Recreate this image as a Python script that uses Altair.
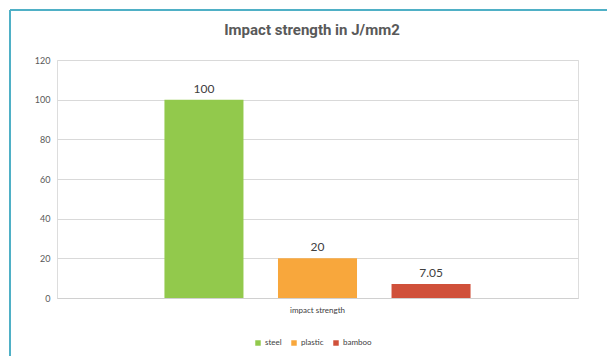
import altair as alt
import pandas as pd

title_text = "Impact strength in J/mm2"
materials = ["steel", "plastic", "bamboo"]
values = [100, 20, 7.05]
category = "impact strength"
colors = ["#92c94c", "#f8a73c", "#d0503a"]
y_ticks = [0, 20, 40, 60, 80, 100, 120]

df = pd.DataFrame({
    "cat": [category] * len(materials),
    "material": materials,
    "value": values,
    "label": [str(v) for v in values],
})
one = pd.DataFrame({"t": [title_text]})

base = alt.Chart(df).encode(
    x=alt.X("cat:N", title=None,
            scale=alt.Scale(paddingInner=0, paddingOuter=0.351),
            axis=alt.Axis(labelAngle=0, labelFontSize=8, labelColor="#404040",
                          labelFont="Lato", ticks=False, domainColor="#d0d0d0",
                          labelPadding=8)),
    xOffset=alt.XOffset("material:N", sort=materials,
                        scale=alt.Scale(paddingInner=0.304, paddingOuter=0)),
    y=alt.Y("value:Q", title=None,
            scale=alt.Scale(domain=[0, 120]),
            axis=alt.Axis(values=y_ticks, labelFontSize=9, labelColor="#595959",
                          labelFont="Lato", ticks=False, domain=False,
                          gridColor="#d9d9d9", labelPadding=7)),
)

bars = base.mark_bar().encode(
    color=alt.Color("material:N", sort=materials,
                    scale=alt.Scale(domain=materials, range=colors),
                    legend=alt.Legend(title=None, orient="none", direction="horizontal",
                                      legendX=197, legendY=279, symbolType="square",
                                      symbolSize=30, labelFontSize=8, labelFont="Lato",
                                      labelColor="#404040", columnPadding=8,
                                      symbolOffset=0, labelOffset=3)),
)

labels = base.mark_text(dy=-11, fontSize=12, font="Lato", color="#404040").encode(
    text="label:N"
)

title = alt.Chart(one).mark_text(fontSize=15, font="Roboto", fontWeight="bold",
                                 color="#595959", baseline="middle", align="center").encode(
    text="t:N", x=alt.value(255), y=alt.value(-30)
)

frame_top = alt.Chart(one).mark_rule(color="#4fb0c6", strokeWidth=2).encode(
    x=alt.value(-47), x2=alt.value(550), y=alt.value(-50)
)
frame_left = alt.Chart(one).mark_rule(color="#4fb0c6", strokeWidth=2).encode(
    x=alt.value(-47), y=alt.value(-50), y2=alt.value(296)
)

chart = alt.layer(bars, labels, title, frame_top, frame_left).properties(
    width=521, height=238,
    autosize=alt.AutoSizeParams(type="none"),
    padding={"left": 57, "top": 60, "right": 29, "bottom": 58},
).configure_view(
    stroke="#d9d9d9", fill="#f4f4f4"
).configure(background="white")

chart.save("out.html", embed_options={"renderer": "svg", "actions": False})
